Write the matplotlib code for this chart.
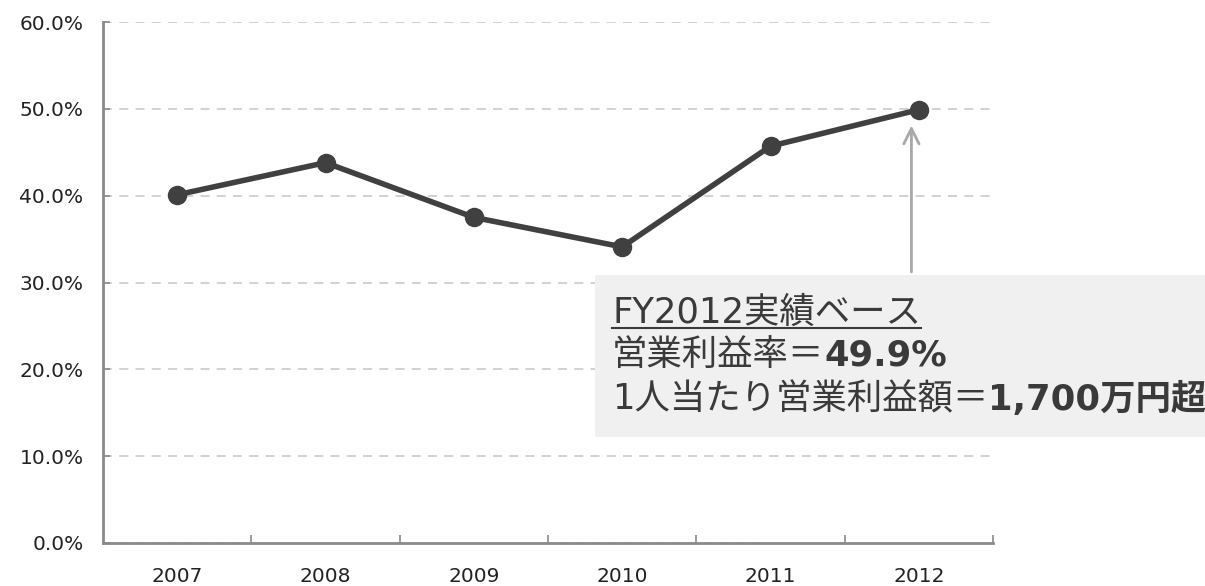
import matplotlib
matplotlib.use('Agg')
import matplotlib.pyplot as plt
from matplotlib.lines import Line2D
from matplotlib.patches import Rectangle
from matplotlib.ticker import FuncFormatter, MultipleLocator, FixedLocator

plt.rcParams['font.family'] = ['Noto Sans CJK JP', 'DejaVu Sans']

# ── Data ──────────────────────────────────────────────────────────────────────
years = ["2007", "2008", "2009", "2010", "2011", "2012"]
margin = [40.1, 43.8, 37.5, 34.1, 45.7, 49.9]

LINE = "#404040"
AXIS = "#8a8a8a"
GRID = "#cfcfcf"
TEXT = "#222222"
BOX = "#f0f0f0"
BOXTXT = "#3a3a3a"
TICKFONT = ['DejaVu Sans']
BOXFONT = ['DejaVu Sans', 'Noto Sans CJK JP']

fig = plt.figure(figsize=(12.05, 5.86), dpi=100, facecolor="white")
ax = fig.add_axes([103/1205, 43/586, 890/1205, 521/586])

x = list(range(len(years)))
ax.plot(x, margin, color=LINE, lw=4, marker="o", markersize=13, zorder=3)

ax.set_xlim(-0.5, len(years) - 0.5)
ax.set_ylim(0, 60)
ax.yaxis.set_major_locator(MultipleLocator(10))
ax.yaxis.set_major_formatter(FuncFormatter(lambda v, p: f"{v:.1f}%"))
ax.set_xticks(x)
ax.set_xticklabels(years)
ax.xaxis.set_minor_locator(FixedLocator([i + 0.5 for i in x]))
ax.tick_params(axis="x", which="major", length=0, pad=17, labelsize=14.5, labelcolor=TEXT)
ax.tick_params(axis="x", which="minor", length=6, direction="in", color=AXIS, width=1.2)
ax.tick_params(axis="y", length=5, direction="in", color=AXIS, width=1.2,
               labelsize=14.5, labelcolor=TEXT, pad=14)
for lab in ax.get_xticklabels() + ax.get_yticklabels():
    lab.set_family(TICKFONT)

ax.yaxis.grid(True, linestyle=(0, (5, 4)), color=GRID, lw=1.3)
ax.set_axisbelow(True)
ax.spines[["top", "right"]].set_visible(False)
ax.spines[["left", "bottom"]].set_color(AXIS)
ax.spines[["left", "bottom"]].set_linewidth(2)

# Arrow to 2012 point
ax.annotate("", xy=(x[-1] - 0.05, 48.4), xytext=(x[-1] - 0.05, 30.9),
            arrowprops=dict(arrowstyle="->,head_length=1.1,head_width=0.55",
                            color="#a8a8a8", lw=2), zorder=2)

# Callout box
fig.patches.append(Rectangle((595/1205, 149/586), 610/1205, 162/586,
                             transform=fig.transFigure, facecolor=BOX,
                             edgecolor="none", zorder=5))

fs = 25.5
x0 = 612/1205
lines = [
    (313, "FY2012実績ベース", ""),
    (356, "営業利益率＝", "49.9%"),
    (399, "1人当たり営業利益額＝", "1,700万円超"),
]
fig.canvas.draw()
renderer = fig.canvas.get_renderer()
inv = fig.transFigure.inverted()
first = None
for ypix, normal, bold in lines:
    y = 1 - ypix/586
    t = fig.text(x0, y, normal, fontsize=fs, color=BOXTXT, va="center",
                 ha="left", family=BOXFONT, zorder=6)
    if first is None:
        first = t
    if bold:
        bb = t.get_window_extent(renderer).transformed(inv)
        fig.text(bb.x1, y, bold, fontsize=fs, fontweight="bold", color=BOXTXT,
                 va="center", ha="left", family=BOXFONT, zorder=6)

# Underline first line
bb = first.get_window_extent(renderer).transformed(inv)
fig.lines.append(Line2D([bb.x0, bb.x1], [bb.y0 + 0.004, bb.y0 + 0.004],
                        transform=fig.transFigure, color=BOXTXT, lw=1.5, zorder=6))

fig.savefig("out.png", dpi=100, facecolor="white")
